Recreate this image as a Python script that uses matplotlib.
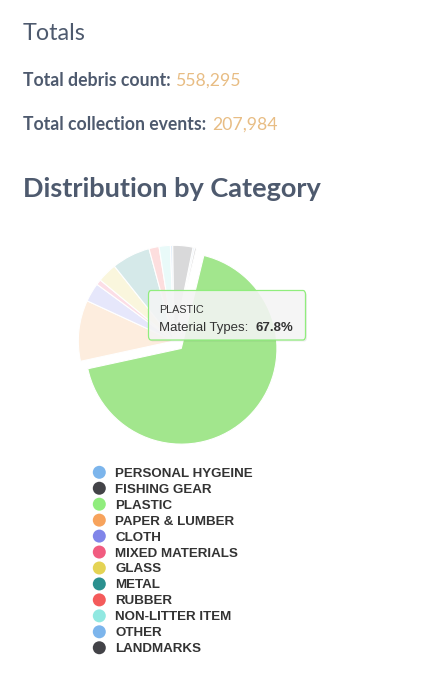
import matplotlib
matplotlib.use("Agg")
import matplotlib.pyplot as plt
from matplotlib.patches import FancyBboxPatch
import matplotlib.colors as mcolors
import numpy as np

# ---------------- data ----------------
categories = ["PERSONAL HYGEINE", "FISHING GEAR", "PLASTIC", "PAPER & LUMBER", "CLOTH",
              "MIXED MATERIALS", "GLASS", "METAL", "RUBBER", "NON-LITTER ITEM",
              "OTHER", "LANDMARKS"]
shares = [0.3, 0.3, 67.8, 10.3, 3.2, 0.9, 3.3, 6.5, 1.7, 1.9, 0.4, 3.4]
colors = ["#7cb5ec", "#434348", "#90ed7d", "#f7a35c", "#8085e9", "#f15c80",
          "#e4d354", "#2b908f", "#f45b5b", "#91e8e1", "#7cb5ec", "#434348"]
highlight = "PLASTIC"
highlight_fill = "#a2e68d"
series_name = "Material Types"
total_debris = 558295
total_events = 207984

# ---------------- layout helpers ----------------
W, H = 441, 680
fig = plt.figure(figsize=(W / 100, H / 100), dpi=100)
fig.patch.set_facecolor("white")
renderer = fig.canvas.get_renderer()


def fx(x):
    return x / W


def fy(y):
    return 1 - y / H


def fit_text(x, y, s, width_px, **kw):
    t = fig.text(fx(x), fy(y), s, fontsize=10, va="baseline", ha="left", **kw)
    w = t.get_window_extent(renderer).width
    t.set_fontsize(10 * width_px / w)
    return t


slate = "#4e5a6e"
accent = "#e8bd84"

# ---------------- header texts ----------------
fit_text(22.7, 40, "Totals", 63, family="Lato", color=slate)
lab1 = fit_text(22.7, 85.7, "Total debris count:", 148, family="Lato",
                weight="bold", color=slate)
fig.text(fx(175.7), fy(85.7), f"{total_debris:,}", va="baseline", ha="left",
         family="Lato", color=accent, fontsize=lab1.get_fontsize())
fig.text(fx(22.7), fy(130), "Total collection events:", va="baseline",
         ha="left", family="Lato", weight="bold", color=slate,
         fontsize=lab1.get_fontsize())
fig.text(fx(212.3), fy(130), f"{total_events:,}", va="baseline", ha="left",
         family="Lato", color=accent, fontsize=lab1.get_fontsize())
fit_text(22.7, 196.7, "Distribution by Category", 299, family="Lato",
         weight="bold", color=slate)

# ---------------- pie ----------------
cx, cy, r = 174, 341, 92
R = 1.3
side = 2 * R * r
ax = fig.add_axes([fx(cx - R * r), fy(cy + R * r), side / W, side / H])
ax.set_xlim(-R, R)
ax.set_ylim(-R, R)
ax.axis("off")


def faded(c, a=0.2):
    rgb = np.array(mcolors.to_rgb(c))
    return tuple(1 - a * (1 - rgb))


face = [highlight_fill if cat == highlight else faded(c)
        for cat, c in zip(categories, colors)]
explode = [10 / r if cat == highlight else 0 for cat in categories]
start_cw = 11.5
ax.pie(shares, colors=face, explode=explode, startangle=90 - start_cw,
       counterclock=False, radius=1,
       wedgeprops=dict(edgecolor="white", linewidth=0.8))

# ---------------- tooltip ----------------
hi = categories.index(highlight)
tx0, ty0, tx1, ty1 = 148.5, 290.5, 305.5, 340
shadow = FancyBboxPatch((fx(tx0 + 1.5), fy(ty1 + 1.5)), (tx1 - tx0) / W, (ty1 - ty0) / H,
                        boxstyle="round,pad=0,rounding_size=0.006",
                        transform=fig.transFigure, facecolor="black", alpha=0.07,
                        edgecolor="none", zorder=5)
fig.patches.append(shadow)
box = FancyBboxPatch((fx(tx0), fy(ty1)), (tx1 - tx0) / W, (ty1 - ty0) / H,
                     boxstyle="round,pad=0,rounding_size=0.006",
                     transform=fig.transFigure, facecolor=(0.97, 0.97, 0.97, 0.88),
                     edgecolor=colors[hi], linewidth=0.9, zorder=6)
fig.patches.append(box)
fit_text(159, 313.3, highlight, 45, family="Liberation Sans", color="#333333",
         zorder=7)
mt = fit_text(159, 330.5, f"{series_name}:", 90, family="Liberation Sans",
              color="#333333", zorder=7)
fig.text(fx(255), fy(330.5), f"{shares[hi]}%", va="baseline", ha="left",
         family="Liberation Sans", weight="bold", color="#333333",
         fontsize=mt.get_fontsize(), zorder=7)

# ---------------- legend ----------------
row0, pitch = 472.3, 15.95
lx0, lx1 = 80, 330
lax = fig.add_axes([fx(lx0), fy(row0 + (len(categories) - 0.5) * pitch),
                    (lx1 - lx0) / W, len(categories) * pitch / H])
lax.set_xlim(0, lx1 - lx0)
lax.set_ylim(len(categories) - 0.5, -0.5)
lax.axis("off")
idx = np.arange(len(categories))
lax.scatter(np.full(len(categories), 19.3), idx, s=(13 / 1.389) ** 2, c=colors,
            edgecolors="none")
probe = fig.text(0, 0, categories[0], family="Liberation Sans", weight="bold",
                 fontsize=10)
lfs = 10 * 138 / probe.get_window_extent(renderer).width
probe.remove()
for i, cat in enumerate(categories):
    lax.text(35, i, cat, va="center_baseline", ha="left", family="Liberation Sans",
             weight="bold", color="#333333", fontsize=lfs)

fig.savefig("out.png", dpi=100, facecolor="white")
